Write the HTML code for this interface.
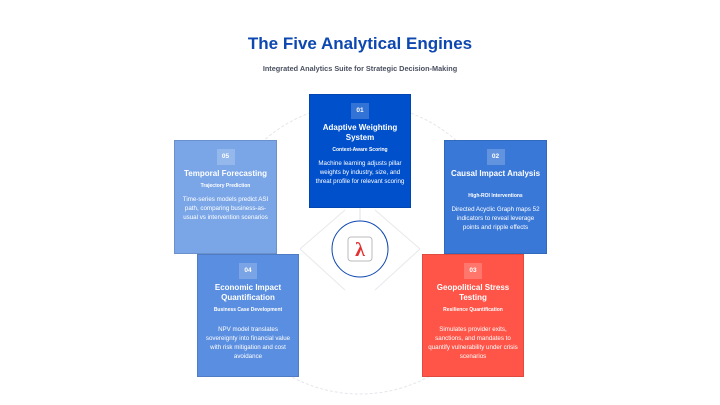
<!DOCTYPE html>
<html><head><meta charset="utf-8"><style>
body{margin:0;width:720px;height:405px;background:#fff;font-family:"Liberation Sans",sans-serif;position:relative;overflow:hidden}
.t{position:absolute;left:0;width:720px;text-align:center;top:34px;font-size:17px;font-weight:bold;color:#0d47b0}
.s{position:absolute;left:0;width:720px;text-align:center;top:64px;font-size:7.3px;font-weight:bold;color:#4a5060}
.b{position:absolute;color:#fff;text-align:center;box-sizing:border-box;padding:8px 5px 0;border:1px solid rgba(0,0,0,0.12)}
.n{width:18px;height:16px;margin:0 auto 4px;background:rgba(255,255,255,0.2);font-size:6.5px;line-height:16px;font-weight:bold}
.h{font-size:8px;font-weight:bold;line-height:10px;margin-bottom:4px}
.k{font-size:5px;font-weight:bold;margin-bottom:6px}
.d{font-size:6.2px;line-height:9px}
</style></head><body>
<svg width="720" height="405" style="position:absolute;left:0;top:0">
<circle cx="360" cy="249" r="145" fill="none" stroke="#e4e6ea" stroke-width="1" stroke-dasharray="3 2"/>
<line x1="360" y1="208" x2="360" y2="221" stroke="#e0e2e6"/>
<path d="M300 249 L345 210 M420 249 L375 210 M300 249 L345 290 M420 249 L375 290" stroke="#e6e8ec"/>
<circle cx="360" cy="249" r="28" fill="#fff" stroke="#0d47b0" stroke-width="1"/>
<rect x="348" y="237" width="24" height="24" rx="3" fill="#fff" stroke="#bbb"/>
<text x="360" y="256" text-anchor="middle" font-family="Liberation Serif" font-size="20" font-weight="bold" fill="#e53030">λ</text>
</svg>
<div class="t">The Five Analytical Engines</div>
<div class="s">Integrated Analytics Suite for Strategic Decision-Making</div>
<div class="b" style="left:174px;top:140px;width:103px;height:114px;background:#7aa6e8"><div class="n">05</div><div class="h">Temporal Forecasting</div><div class="k">Trajectory Prediction</div><div class="d">Time-series models predict ASI path, comparing business-as-usual vs intervention scenarios</div></div>
<div class="b" style="left:444px;top:140px;width:103px;height:114px;background:#3a78d8;padding:8px 2px 0"><div class="n">02</div><div class="h">Causal Impact Analysis</div><div class="k" style="margin-top:14px">High-ROI Interventions</div><div class="d" style="padding:0 3px">Directed Acyclic Graph maps 52 indicators to reveal leverage points and ripple effects</div></div>
<div class="b" style="left:309px;top:94px;width:102px;height:114px;background:#0050cc"><div class="n">01</div><div class="h">Adaptive Weighting System</div><div class="k">Context-Aware Scoring</div><div class="d">Machine learning adjusts pillar weights by industry, size, and threat profile for relevant scoring</div></div>
<div class="b" style="left:197px;top:254px;width:102px;height:123px;background:#5a8ee0"><div class="n">04</div><div class="h">Economic Impact Quantification</div><div class="k" style="margin-bottom:12px">Business Case Development</div><div class="d">NPV model translates sovereignty into financial value with risk mitigation and cost avoidance</div></div>
<div class="b" style="left:422px;top:254px;width:102px;height:123px;background:#ff5548"><div class="n">03</div><div class="h">Geopolitical Stress Testing</div><div class="k" style="margin-bottom:12px">Resilience Quantification</div><div class="d">Simulates provider exits, sanctions, and mandates to quantify vulnerability under crisis scenarios</div></div>
</body></html>
